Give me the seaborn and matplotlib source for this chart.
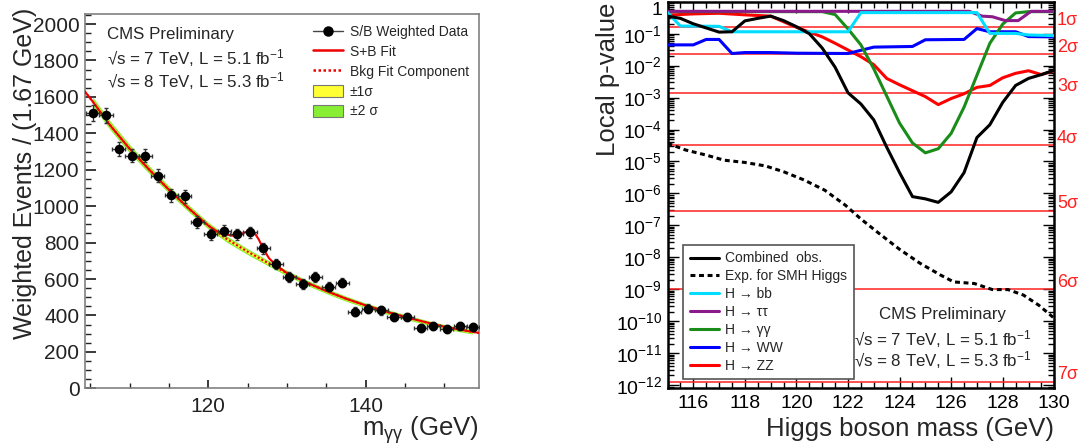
import numpy as np
import seaborn as sns
import matplotlib.pyplot as plt
from matplotlib.lines import Line2D
from matplotlib.patches import Patch
from matplotlib.ticker import MultipleLocator, FixedLocator, LogLocator, FuncFormatter, NullFormatter

# ---- left panel: S/B weighted diphoton mass spectrum ----
mgg = [105.3, 107.0, 108.6, 110.3, 112.0, 113.6, 115.3, 117.0, 118.6, 120.3,
       122.0, 123.6, 125.3, 127.0, 128.6, 130.3, 132.0, 133.6, 135.3, 137.0,
       138.6, 140.3, 142.0, 143.6, 145.3, 147.0, 148.6, 150.3, 152.0, 153.6]
events = [1512, 1500, 1316, 1277, 1278, 1166, 1059, 1054, 913, 845,
          866, 845, 856, 770, 681, 611, 573, 611, 558, 580,
          421, 437, 428, 390, 390, 333, 342, 326, 342, 339]
events_err = [42, 41, 38, 37, 37, 36, 34, 34, 32, 31,
              31, 31, 31, 30, 28, 27, 27, 27, 26, 26,
              24, 24, 24, 23, 23, 22, 22, 21, 22, 22]
bin_half = 0.83

fit_mass = [104.3, 105.3, 107.5, 110.0, 112.5, 115.0, 117.5, 120.0, 122.5, 125.0,
            127.5, 130.0, 132.5, 135.0, 137.5, 140.0, 142.5, 145.0, 147.5, 150.0,
            152.5, 153.6, 154.4]
bkg_fit = [1630, 1575, 1445, 1315, 1200, 1090, 988, 893, 815, 750,
           690, 632, 580, 534, 492, 455, 422, 392, 364, 338,
           318, 310, 304]

sb_mass = [104.3, 105.3, 107.5, 110.0, 112.5, 115.0, 117.5, 120.0, 121.0, 122.0,
           123.0, 123.8, 124.5, 125.2, 125.8, 126.4, 127.0, 127.7, 128.5, 129.5,
           130.0, 132.5, 135.0, 137.5, 140.0, 142.5, 145.0, 147.5, 150.0, 152.5,
           153.6, 154.4]
sb_fit = [1630, 1575, 1445, 1315, 1200, 1090, 988, 893, 864, 848,
          838, 840, 853, 866, 858, 818, 765, 715, 680, 648,
          632, 580, 534, 492, 455, 422, 392, 364, 338, 318,
          310, 304]

band_1sig = [12, 12, 11, 10, 10, 9, 9, 8, 8, 8, 7, 7, 7, 7, 7, 6, 6, 6, 6, 6, 6]
band_2sig = [25, 24, 23, 21, 20, 19, 18, 17, 16, 15, 15, 14, 14, 14, 13, 13, 13, 12, 12, 12, 12]

# ---- right panel: local p-values, stored as log10(p) ----
comb_mass = [115.0, 115.5, 116.0, 116.5, 117.0, 117.5, 118.0, 118.5, 119.0, 119.5,
             120.0, 120.5, 121.0, 121.5, 122.0, 122.5, 123.0, 123.5, 124.0, 124.5,
             125.0, 125.5, 126.0, 126.5, 127.0, 127.5, 128.0, 128.5, 129.0, 129.5, 130.0]
comb_logp = [-0.45, -0.52, -0.69, -0.82, -0.95, -0.94, -0.60, -0.52, -0.45, -0.59,
             -0.78, -1.00, -1.45, -2.05, -2.85, -3.20, -3.70, -4.55, -5.35, -6.10,
             -6.17, -6.28, -5.95, -5.35, -4.25, -3.85, -3.15, -2.62, -2.40, -2.28, -2.14]

exp_mass = [115.0, 115.7, 116.5, 117.2, 118.0, 118.8, 119.5, 120.3, 121.1, 121.9,
            122.5, 123.2, 124.0, 124.8, 125.6, 126.1, 126.9, 127.6, 128.2, 128.8,
            129.4, 130.0]
exp_logp = [-4.43, -4.64, -4.80, -4.96, -5.03, -5.14, -5.32, -5.58, -5.90, -6.37,
            -6.80, -7.25, -7.75, -8.19, -8.56, -8.77, -8.82, -9.01, -9.01, -9.18,
            -9.50, -9.91]

bb_mass = [115.0, 115.5, 117.0, 117.5, 122.0, 122.5, 127.0, 127.5, 128.5, 129.0, 130.0]
bb_logp = [-0.34, -0.76, -0.77, -0.94, -0.94, -0.34, -0.34, -0.99, -0.99, -1.04, -1.06]

tautau_mass = [115.0, 126.7, 127.2, 127.6, 128.1, 128.6, 129.1, 130.0]
tautau_logp = [-0.30, -0.30, -0.45, -0.47, -0.59, -0.59, -0.30, -0.30]

gg_mass = [115.0, 121.0, 121.5, 122.0, 122.5, 123.0, 123.5, 124.0, 124.5, 125.0,
           125.5, 126.0, 126.5, 127.0, 127.5, 128.0, 128.5, 129.0, 130.0]
gg_logp = [-0.31, -0.31, -0.40, -0.85, -1.35, -2.10, -2.95, -3.80, -4.42, -4.73,
           -4.60, -4.12, -3.30, -2.30, -1.30, -0.70, -0.35, -0.31, -0.31]

ww_mass = [115.0, 116.0, 116.5, 117.0, 117.5, 118.0, 119.0, 120.0, 122.0, 122.5,
           123.0, 124.5, 125.0, 126.5, 127.0, 127.5, 128.5, 129.0, 130.0]
ww_logp = [-1.35, -1.35, -1.18, -1.18, -1.62, -1.59, -1.59, -1.61, -1.62, -1.52,
           -1.42, -1.40, -1.19, -1.18, -0.84, -0.94, -0.94, -1.09, -1.10]

zz_mass = [115.0, 116.0, 117.0, 118.0, 119.0, 120.0, 120.5, 121.0, 121.5, 122.5,
           123.0, 123.5, 124.0, 125.0, 125.5, 126.0, 126.5, 127.0, 127.5, 128.0,
           128.5, 129.0, 129.5, 130.0]
zz_logp = [-0.42, -0.38, -0.36, -0.41, -0.45, -0.80, -0.95, -1.10, -1.30, -1.72,
           -1.97, -2.40, -2.60, -2.97, -3.22, -3.03, -2.88, -2.68, -2.62, -2.38,
           -2.24, -2.16, -2.28, -2.16]

sigma_p = [1.587e-1, 2.275e-2, 1.350e-3, 3.167e-5, 2.867e-7, 9.866e-10, 1.280e-12]
sigma_labels = ['1σ', '2σ', '3σ', '4σ', '5σ', '6σ', '7σ']
mass_ticks = [116, 118, 120, 122, 124, 126, 128, 130]

sns.set_theme(style='ticks')
plt.rcParams['font.family'] = ['Liberation Sans', 'DejaVu Sans']
plt.rcParams['mathtext.fontset'] = 'custom'
plt.rcParams['mathtext.rm'] = 'Liberation Sans'
plt.rcParams['mathtext.it'] = 'Liberation Sans:italic'
plt.rcParams['mathtext.default'] = 'regular'

fig = plt.figure(figsize=(10.86, 4.48), dpi=100)
W, H = 1086.0, 448.0
ax1 = fig.add_axes([85 / W, 1 - 388.3 / H, 394 / W, 374.3 / H])
ax2 = fig.add_axes([667.5 / W, 1 - 388.3 / H, 386.8 / W, 386.55 / H])

# ---------------- left panel ----------------
band_mass = fit_mass[1:-1]
band_bkg = np.array(bkg_fit[1:-1])
ax1.fill_between(band_mass, band_bkg - np.array(band_2sig), band_bkg + np.array(band_2sig),
                 color='#88ee33', lw=0, zorder=1)
ax1.fill_between(band_mass, band_bkg - np.array(band_1sig), band_bkg + np.array(band_1sig),
                 color='#ffff33', lw=0, zorder=2)
sns.lineplot(x=fit_mass, y=bkg_fit, ax=ax1, color='#ee0000', lw=1.5,
             linestyle=(0, (1, 1)), estimator=None, sort=False, zorder=3)
sns.lineplot(x=sb_mass, y=sb_fit, ax=ax1, color='#ee0000', lw=1.5,
             estimator=None, sort=False, zorder=4)
ax1.errorbar(mgg, events, yerr=events_err, xerr=bin_half, fmt='none',
             ecolor='#333333', elinewidth=0.9, capsize=1.2, zorder=5)
sns.scatterplot(x=mgg, y=events, ax=ax1, color='black', s=48, edgecolor='black',
                linewidth=0, zorder=6)

ax1.set_xlim(104.33, 154.4)
ax1.set_ylim(0, 2055)
ax1.xaxis.set_major_locator(MultipleLocator(20))
ax1.xaxis.set_minor_locator(MultipleLocator(5))
ax1.yaxis.set_major_locator(MultipleLocator(200))
ax1.yaxis.set_minor_locator(MultipleLocator(50))
ax1.tick_params(which='both', direction='in', top=False, right=False,
                labelsize=15, colors='#222222')
ax1.tick_params(axis='y', which='major', length=8, pad=4)
ax1.tick_params(axis='y', which='minor', length=4)
ax1.tick_params(axis='x', which='major', length=6, pad=6)
ax1.tick_params(axis='x', which='minor', length=3.5)
for sp in ax1.spines.values():
    sp.set_visible(True)
    sp.set_color('#808080')
    sp.set_linewidth(1.2)
ax1.set_xlabel('')
ax1.set_ylabel('')

ax1.text(107 / W, 1 - 34 / H, 'CMS Preliminary', transform=fig.transFigure,
         fontsize=12.2, va='center', ha='left')
ax1.text(107 / W, 1 - 58 / H, '√s = 7 TeV, L = 5.1 fb$^{-1}$', transform=fig.transFigure,
         fontsize=12.2, va='center', ha='left')
ax1.text(107 / W, 1 - 81 / H, '√s = 8 TeV, L = 5.3 fb$^{-1}$', transform=fig.transFigure,
         fontsize=12.2, va='center', ha='left')

handles1 = [
    Line2D([], [], color='#444444', lw=1.0, marker='o', ms=6.5, mfc='black', mec='black'),
    Line2D([], [], color='#ee0000', lw=1.8),
    Line2D([], [], color='#ee0000', lw=1.8, linestyle=(0, (1, 1))),
    Patch(facecolor='#ffff33', edgecolor='#777777', lw=0.8),
    Patch(facecolor='#88ee33', edgecolor='#777777', lw=0.8),
]
labels1 = ['S/B Weighted Data', 'S+B Fit', 'Bkg Fit Component', '±1σ', '±2 σ']
ax1.legend(handles1, labels1, loc='upper left', bbox_to_anchor=(313 / W, 1 - 25 / H),
           bbox_transform=fig.transFigure, frameon=False, fontsize=10,
           handlelength=2.15, handleheight=0.95, handletextpad=0.5,
           labelspacing=0.42, borderpad=0, borderaxespad=0)

fig.text(25 / W, 1 - 8 / H, 'Weighted Events / (1.67 GeV)', rotation=90,
         ha='center', va='top', fontsize=18)
fig.text(479 / W, 1 - 430 / H, r'm$_{\gamma\gamma}$ (GeV)', ha='right', va='center',
         fontsize=18.5)

# ---------------- right panel ----------------
for p, lab in zip(sigma_p, sigma_labels):
    ax2.axhline(p, color='#ff2020', lw=1.1, zorder=1)
    ax2.annotate(lab, xy=(1.007, p), xycoords=('axes fraction', 'data'),
                 xytext=(0, 5), textcoords='offset points', color='#ff2020',
                 fontsize=13, ha='left', va='center', annotation_clip=False)

curves = [
    (zz_mass, zz_logp, '#ff0000'),
    (ww_mass, ww_logp, '#0000ff'),
    (gg_mass, gg_logp, '#1a8c1a'),
    (tautau_mass, tautau_logp, '#8b1a8b'),
    (bb_mass, bb_logp, '#00ddff'),
]
for m, lp, c in curves:
    sns.lineplot(x=m, y=np.power(10.0, lp), ax=ax2, color=c, lw=2.2,
                 estimator=None, sort=False, zorder=3)
sns.lineplot(x=exp_mass, y=np.power(10.0, exp_logp), ax=ax2, color='black', lw=2.2,
             linestyle=(0, (1.6, 1.2)), estimator=None, sort=False, zorder=4)
sns.lineplot(x=comb_mass, y=np.power(10.0, comb_logp), ax=ax2, color='black', lw=2.2,
             estimator=None, sort=False, zorder=5)

ax2.set_yscale('log')
ax2.set_xlim(115, 130)
ax2.set_ylim(10 ** -12.1, 1)
ax2.xaxis.set_major_locator(FixedLocator(mass_ticks))
ax2.xaxis.set_minor_locator(MultipleLocator(0.5))
ax2.yaxis.set_major_locator(LogLocator(base=10, numticks=100))
ax2.yaxis.set_minor_locator(LogLocator(base=10, subs=np.arange(2, 10), numticks=100))
ax2.yaxis.set_minor_formatter(NullFormatter())
ax2.yaxis.set_major_formatter(FuncFormatter(
    lambda v, pos: '1' if abs(np.log10(v)) < 1e-6 else r'$10^{%d}$' % round(np.log10(v))))
ax2.tick_params(which='both', direction='in', top=True, right=True,
                labelsize=14, colors='black', width=1.0)
ax2.tick_params(which='major', length=8)
ax2.tick_params(which='minor', length=4)
ax2.tick_params(axis='y', which='major', pad=4)
ax2.tick_params(axis='x', which='major', pad=5)
for sp in ax2.spines.values():
    sp.set_visible(True)
    sp.set_color('black')
    sp.set_linewidth(1.8)
ax2.set_xlabel('')
ax2.set_ylabel('')
# the empty offset texts sit above the top edge; hide them
for axis in (ax1.xaxis, ax1.yaxis, ax2.xaxis, ax2.yaxis):
    axis.get_offset_text().set_visible(False)
# keep the topmost "1" label inside the canvas
for lbl in ax2.get_yticklabels():
    if lbl.get_text() == '1':
        lbl.set_va('top')

handles2 = [
    Line2D([], [], color='black', lw=2.2),
    Line2D([], [], color='black', lw=2.2, linestyle=(0, (1.6, 1.2))),
    Line2D([], [], color='#00ddff', lw=2.2),
    Line2D([], [], color='#8b1a8b', lw=2.2),
    Line2D([], [], color='#1a8c1a', lw=2.2),
    Line2D([], [], color='#0000ff', lw=2.2),
    Line2D([], [], color='#ff0000', lw=2.2),
]
labels2 = ['Combined  obs.', 'Exp. for SMH Higgs', 'H → bb', 'H → ττ', 'H → γγ',
           'H → WW', 'H → ZZ']
leg2 = ax2.legend(handles2, labels2, loc='lower left',
                  bbox_to_anchor=(0.041, 0.024, 0.441, 0.341), mode='expand',
                  fontsize=10, frameon=True, fancybox=False, framealpha=1,
                  edgecolor='#555555', handlelength=2.1, handletextpad=0.45,
                  labelspacing=0.28, borderpad=0.45, borderaxespad=0)
leg2.get_frame().set_linewidth(1.2)

fig.text(942.7 / W, 1 - 314 / H, 'CMS Preliminary', ha='center', va='center', fontsize=12.2)
fig.text(942.7 / W, 1 - 339 / H, '√s = 7 TeV, L = 5.1 fb$^{-1}$', ha='center', va='center',
         fontsize=12.2)
fig.text(942.7 / W, 1 - 360 / H, '√s = 8 TeV, L = 5.3 fb$^{-1}$', ha='center', va='center',
         fontsize=12.2)

fig.text(608 / W, 1 - 3 / H, 'Local p-value', rotation=90, ha='center', va='top', fontsize=18.5)
fig.text(1054 / W, 1 - 429 / H, 'Higgs boson mass (GeV)', ha='right', va='center',
         fontsize=18.5)

fig.savefig('out.png', dpi=100)
